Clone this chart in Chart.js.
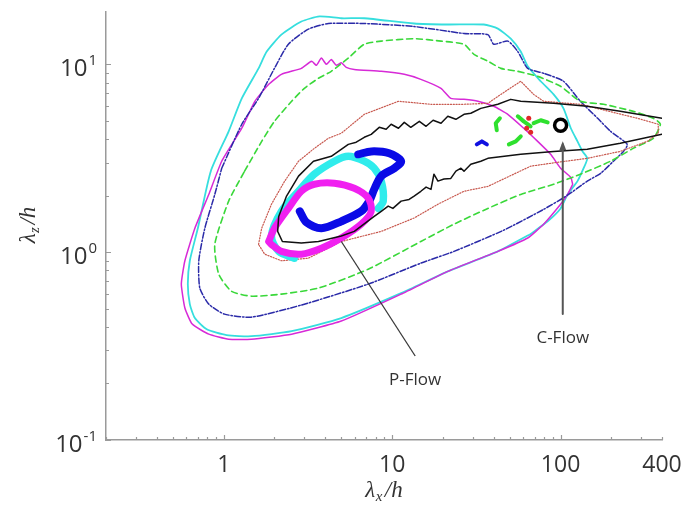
<!DOCTYPE html>
<html>
<head>
<meta charset="utf-8">
<script src="https://cdn.jsdelivr.net/npm/chart.js@4/dist/chart.umd.min.js"></script>
<style>
  html, body { margin: 0; padding: 0; background: #fff; }
</style>
</head>
<body>
<canvas id="chart" width="685" height="506"></canvas>
<script>
// ---- axis ticks ----
const xTickValues = [0.2,0.3,0.4,0.5,0.6,0.7,0.8,0.9,1,2,3,4,5,6,7,8,9,10,20,30,40,50,60,70,80,90,100,200,300,400];
const xLabelValues = [1, 10, 100, 400];
const yTickValues = [0.1,0.2,0.3,0.4,0.5,0.6,0.7,0.8,0.9,1,2,3,4,5,6,7,8,9,10];
const yLabelValues = [0.1, 1, 10];
const yLabelExponents = ['-1', '0', '1'];

// ---- contour levels, [λx/h, λz/h] ----
const cyanOuter = [[66.4,1.25],[42.4,1.01],[21.4,0.79],[11.3,0.605],[4.99,0.446],[2.53,0.38],[1.46,0.357],[1.04,0.362],[0.793,0.389],[0.674,0.446],[0.629,0.529],[0.612,0.676],[0.629,0.90],[0.702,1.34],[0.838,2.70],[1.07,4.40],[1.28,6.59],[1.61,9.52],[1.80,11.7],[2.20,14.4],[2.89,16.9],[3.70,18.0],[4.99,17.6],[6.83,17.6],[13.5,16.5],[21.4,16.3],[35.0,16.3],[42.4,15.5],[50.6,13.7],[58.0,11.7],[63.8,9.76],[76.2,8.13],[90.9,6.92],[104,5.83],[115,4.57],[126,3.89],[135,3.44],[144,3.16],[137,2.80],[126,2.39],[110,2.03],[100,1.71],[83.8,1.46],[66.4,1.25]];
const magentaOuter = [[118,2.30],[110,2.03],[100,1.80],[79.3,1.41],[63.8,1.19],[42.4,1.01],[21.4,0.79],[11.3,0.598],[4.99,0.43],[2.53,0.366],[1.46,0.344],[1.07,0.344],[0.815,0.366],[0.65,0.414],[0.588,0.504],[0.56,0.676],[0.588,0.90],[0.674,1.34],[0.815,2.03],[0.973,3.05],[1.28,4.57],[1.53,6.36],[1.85,7.83],[2.20,8.85],[2.89,9.52],[3.32,10.4],[3.55,9.88],[3.80,10.8],[4.07,10.0],[4.35,10.6],[4.66,9.88],[4.99,10.2],[5.34,9.64],[5.96,9.40],[8.61,9.18],[11.8,8.85],[14.8,8.32],[19.5,7.45],[22.3,6.59],[26.7,6.51],[32.3,6.36],[40.1,5.98],[48.6,5.42],[60.4,4.57],[73.1,3.89],[87.3,3.32],[100,2.80],[115,2.50],[118,2.30]];
const blueDashDot = [[0.973,2.80],[1.28,4.80],[1.61,6.59],[2.00,9.52],[2.42,12.8],[3.18,15.4],[4.18,16.5],[6.83,16.5],[13.5,15.9],[26.7,14.6],[37.0,14.4],[40.1,12.8],[48.6,13.3],[55.7,11.7],[63.8,9.52],[79.3,8.96],[104,8.13],[131,6.36],[166,5.16],[198,4.40],[249,3.75],[236,3.44],[206,3.05],[173,2.63],[144,2.39],[110,2.01],[79.3,1.69],[46.0,1.31],[23.3,1.01],[14.8,0.874],[7.21,0.676],[2.89,0.523],[1.46,0.451],[1.01,0.468],[0.815,0.529],[0.721,0.644],[0.711,0.90],[0.772,1.34],[0.885,2.03],[0.973,2.80]];
const greenDashed = [[1.33,2.70],[1.68,3.89],[2.00,4.97],[2.53,6.36],[3.01,7.45],[3.65,8.43],[4.35,9.18],[5.49,10.8],[6.83,12.8],[8.61,13.3],[13.5,13.7],[19.5,13.3],[26.7,12.8],[30.6,11.3],[37.0,10.4],[44.2,9.52],[55.7,9.18],[73.1,8.63],[100,7.64],[131,6.36],[180,6.13],[270,5.62],[355,5.16],[391,4.80],[355,4.04],[270,3.57],[198,3.05],[131,2.60],[90.9,2.30],[58.0,2.03],[37.0,1.71],[23.3,1.41],[14.8,1.14],[7.21,0.812],[3.65,0.644],[2.20,0.598],[1.46,0.583],[1.11,0.62],[0.934,0.764],[0.885,1.10],[1.07,1.87],[1.33,2.70]];
const redDotted = [[1.61,1.10],[1.68,1.34],[1.92,1.80],[2.30,2.39],[2.78,3.05],[3.45,3.57],[4.18,4.04],[4.99,4.30],[6.83,5.42],[10.9,6.36],[17.0,6.13],[26.7,6.13],[37.0,6.20],[44.2,6.92],[58.0,8.13],[69.2,6.92],[79.3,6.36],[131,6.13],[286,5.16],[380,4.80],[380,4.30],[327,3.89],[226,3.44],[144,3.16],[96,3.01],[66.4,2.87],[37.0,2.24],[26.7,2.11],[18.7,1.80],[13.5,1.52],[8.61,1.29],[4.99,1.14],[3.18,0.929],[2.20,0.90],[1.75,0.976],[1.61,1.10]];
const blackSolid = [[400,5.16],[226,5.62],[144,5.98],[90.9,6.20],[58.0,6.36],[50.6,6.51],[42.4,6.13],[33.6,5.83],[29.3,5.49],[26.7,5.42],[23.9,5.10],[21.4,5.29],[19.5,4.86],[17.5,5.04],[15.9,4.68],[14.5,4.97],[12.9,4.62],[11.8,4.91],[10.9,4.57],[9.86,4.80],[9.21,4.51],[8.38,4.62],[7.51,4.24],[6.83,4.09],[6.12,3.85],[5.49,3.75],[4.35,3.24],[3.41,3.05],[2.78,2.54],[2.36,1.99],[2.12,1.55],[2.09,1.29],[2.23,1.14],[2.89,1.12],[3.65,1.14],[4.99,1.22],[5.96,1.29],[7.82,1.55],[8.61,1.65],[9.47,1.76],[10.1,1.71],[11.3,1.87],[12.6,1.91],[13.5,1.99],[14.8,2.11],[15.9,2.22],[17.0,2.16],[17.7,2.60],[18.7,2.39],[20.3,2.45],[22.3,2.47],[23.9,2.70],[25.6,2.80],[26.7,2.70],[29.3,2.94],[33.6,3.05],[37.0,3.16],[58.0,3.32],[90.9,3.44],[144,3.53],[226,3.80],[400,4.24]];

// ---- P-Flow cores ----
const pFlowCyan = [[2.63,0.929],[2.12,1.01],[1.92,1.22],[2.20,1.65],[2.78,2.11],[3.45,2.60],[4.54,3.05],[5.49,3.24],[6.83,3.05],[7.82,2.80],[8.61,2.39],[8.85,1.87],[8.27,1.71]];
const pFlowMagenta = [[1.85,1.14],[2.00,1.34],[2.42,1.71],[2.89,2.11],[3.45,2.30],[4.54,2.33],[5.96,2.19],[7.21,1.94],[7.51,1.65],[6.55,1.41],[4.99,1.19],[3.80,1.05],[2.89,0.976],[2.20,1.01],[1.92,1.10],[1.85,1.14]];
const pFlowBlue = [[2.83,1.65],[3.10,1.44],[3.80,1.34],[4.99,1.46],[6.55,1.65],[7.31,1.87],[7.82,2.16],[8.61,2.54],[10.3,2.80],[11.3,3.05],[9.60,3.36],[7.51,3.44],[6.29,3.32]];

// ---- C-Flow cores ----
const cFlowGreenA = [[43.6,5.16],[41.2,4.86],[41.8,4.46]];
const cFlowGreenB = [[49.3,3.75],[54.2,3.89],[58.0,4.14]];
const cFlowGreenC = [[55.7,5.29],[60.4,4.97],[66.4,4.68]];
const cFlowGreenD = [[69.2,4.86],[76.2,5.04],[83.8,4.91]];
const cFlowRed = [[64.7,5.16],[62.9,4.57],[66.4,4.35]];
const cFlowBlue = [[31.8,3.75],[34.1,3.89],[36.5,3.75]];
const cFlowBlack = [[100,4.74]];

// ---- callouts ----
const pFlowPointer = [[4.99,1.14],[13.7,0.280]];
const pFlowLabel = { text: 'P-Flow', x: 13.7, y: 0.207 };
const cFlowPointer = [[103,3.75],[103,0.468]];
const cFlowLabel = { text: 'C-Flow', x: 103, y: 0.35 };

const pts = a => a.map(([x, y]) => ({ x, y }));
const isDecade = v => Math.abs(Math.log10(v) - Math.round(Math.log10(v))) < 1e-9;

function line(data, color, width, dash, order, extra) {
  return Object.assign({
    data: pts(data), showLine: true, borderColor: color, backgroundColor: color,
    borderWidth: width, borderDash: dash || [], pointRadius: 0, fill: false,
    tension: 0, order: order, borderJoinStyle: 'round', borderCapStyle: 'round'
  }, extra || {});
}

const datasets = [
  line(pFlowPointer, '#3a3a3a', 1.3, [], 0, { borderCapStyle: 'butt' }),
  line(cFlowPointer, '#555555', 2, [], 0, { borderCapStyle: 'butt' }),
  { data: pts(cFlowBlack), pointRadius: 6, pointBorderWidth: 3.5, pointBorderColor: '#000', pointBackgroundColor: '#fff', pointStyle: 'circle', order: 1, showLine: false },
  line(cFlowRed, '#e03030', 0, [], 2, { showLine: false, pointRadius: 2.5, pointBackgroundColor: '#e02828', pointBorderWidth: 0 }),
  line(cFlowGreenA, '#2ee02e', 4, [], 3),
  line(cFlowGreenB, '#2ee02e', 4, [], 3),
  line(cFlowGreenC, '#2ee02e', 4, [], 3),
  line(cFlowGreenD, '#2ee02e', 4, [], 3),
  line(cFlowBlue, '#1010e0', 4, [], 3),
  line(blackSolid, '#111111', 1.5, [], 4),
  line(pFlowMagenta, '#f020f0', 7, [], 5, { tension: 0.3 }),
  line(pFlowBlue, '#0a0ae6', 8, [], 6, { tension: 0.3 }),
  line(pFlowCyan, '#30ecec', 7.5, [], 7, { tension: 0.3 }),
  line(redDotted, '#c85a50', 1.2, [1.2, 1.6], 8),
  line(greenDashed, '#3ad83a', 1.6, [6, 4], 9, { tension: 0.2 }),
  line(blueDashDot, '#2a2aa8', 1.5, [6, 2, 1.5, 2], 10, { tension: 0.2 }),
  line(magentaOuter, '#d72ad7', 1.5, [], 11, { tension: 0.15 }),
  line(cyanOuter, '#36dede', 1.8, [], 12, { tension: 0.2 })
];

// tick marks pointing into the plot, superscripted decade labels, axis titles and callout text
const decorations = {
  id: 'decorations',
  afterDraw(chart) {
    const { ctx, chartArea: a, scales: { x, y } } = chart;
    ctx.save();
    ctx.strokeStyle = '#9a9a9a';
    ctx.lineWidth = 1.2;
    ctx.beginPath();
    x.ticks.forEach(t => {
      const px = Math.round(x.getPixelForValue(t.value)) + 0.5;
      const len = isDecade(t.value) ? 5 : 3;
      ctx.moveTo(px, a.bottom); ctx.lineTo(px, a.bottom - len);
    });
    y.ticks.forEach(t => {
      const py = Math.round(y.getPixelForValue(t.value)) + 0.5;
      const len = isDecade(t.value) ? 5 : 3;
      ctx.moveTo(a.left, py); ctx.lineTo(a.left + len, py);
    });
    ctx.stroke();

    // y decade labels 10^n
    ctx.fillStyle = '#333333';
    ctx.textBaseline = 'alphabetic';
    ctx.textAlign = 'left';
    yLabelValues.forEach((v, i) => {
      const py = y.getPixelForValue(v);
      ctx.font = '24px "Open Sans", sans-serif';
      const bw = ctx.measureText('10').width;
      ctx.font = '15px "Open Sans", sans-serif';
      const sw = ctx.measureText(yLabelExponents[i]).width;
      const right = a.left - 9;
      ctx.fillText(yLabelExponents[i], right - sw, py + 1);
      ctx.font = '24px "Open Sans", sans-serif';
      ctx.fillText('10', right - sw - bw - 1, py + 12);
    });

    // axis titles: λ_x/h and λ_z/h
    function mathTitle(sub, cx, cy, rotate) {
      ctx.save();
      ctx.translate(cx, cy);
      if (rotate) ctx.rotate(-Math.PI / 2);
      const big = 'italic 23px "Liberation Serif", "DejaVu Serif", serif';
      const small = 'italic 15px "Liberation Serif", "DejaVu Serif", serif';
      ctx.font = big; const w1 = ctx.measureText('λ').width;
      ctx.font = small; const w2 = ctx.measureText(sub).width;
      ctx.font = big; const w3 = ctx.measureText('/h').width;
      let sx = -(w1 + w2 + w3 + 3) / 2;
      ctx.fillStyle = '#333333';
      ctx.textBaseline = 'alphabetic';
      ctx.textAlign = 'left';
      ctx.font = big; ctx.fillText('λ', sx, 8); sx += w1 + 0.5;
      ctx.font = small; ctx.fillText(sub, sx, 12); sx += w2 + 2.5;
      ctx.font = big; ctx.fillText('/h', sx, 8);
      ctx.restore();
    }
    mathTitle('x', 384, 489, false);
    mathTitle('z', 27, 225, true);

    // arrowhead on the C-Flow pointer
    const ax = x.getPixelForValue(cFlowPointer[0][0]);
    const ay = y.getPixelForValue(cFlowPointer[0][1]);
    ctx.fillStyle = '#555555';
    ctx.beginPath();
    ctx.moveTo(ax, ay - 3); ctx.lineTo(ax - 3.5, ay + 6); ctx.lineTo(ax + 3.5, ay + 6);
    ctx.closePath(); ctx.fill();

    // callout labels
    ctx.fillStyle = '#333333';
    ctx.font = '17px "Open Sans", sans-serif';
    ctx.textAlign = 'center';
    ctx.textBaseline = 'middle';
    [pFlowLabel, cFlowLabel].forEach(l => {
      ctx.fillText(l.text, x.getPixelForValue(l.x), y.getPixelForValue(l.y));
    });
    ctx.restore();
  }
};

new Chart(document.getElementById('chart'), {
  type: 'scatter',
  data: { datasets },
  plugins: [decorations],
  options: {
    responsive: false,
    animation: false,
    devicePixelRatio: 1,
    layout: { padding: { left: 0, right: 23, top: 12, bottom: 0 } },
    plugins: { legend: { display: false }, tooltip: { enabled: false } },
    scales: {
      x: {
        type: 'logarithmic', min: 0.2, max: 400,
        afterBuildTicks: s => { s.ticks = xTickValues.map(v => ({ value: v })); },
        afterFit: s => { s.height = 66; s.paddingLeft = 0; s.paddingRight = 0; },
        grid: { display: false, drawTicks: false },
        border: { display: true, color: '#9a9a9a', width: 1.5 },
        ticks: {
          autoSkip: false, maxRotation: 0, padding: 12, color: '#333333',
          font: { family: '"Open Sans", sans-serif', size: 23 },
          callback: v => xLabelValues.includes(v) ? String(v) : ''
        }
      },
      y: {
        type: 'logarithmic', min: 0.1, max: 19,
        afterBuildTicks: s => { s.ticks = yTickValues.map(v => ({ value: v })); },
        afterFit: s => { s.width = 106; s.paddingTop = 0; s.paddingBottom = 0; },
        grid: { display: false, drawTicks: false },
        border: { display: true, color: '#9a9a9a', width: 1.5 },
        ticks: { display: false }
      }
    }
  }
});
</script>
</body>
</html>
